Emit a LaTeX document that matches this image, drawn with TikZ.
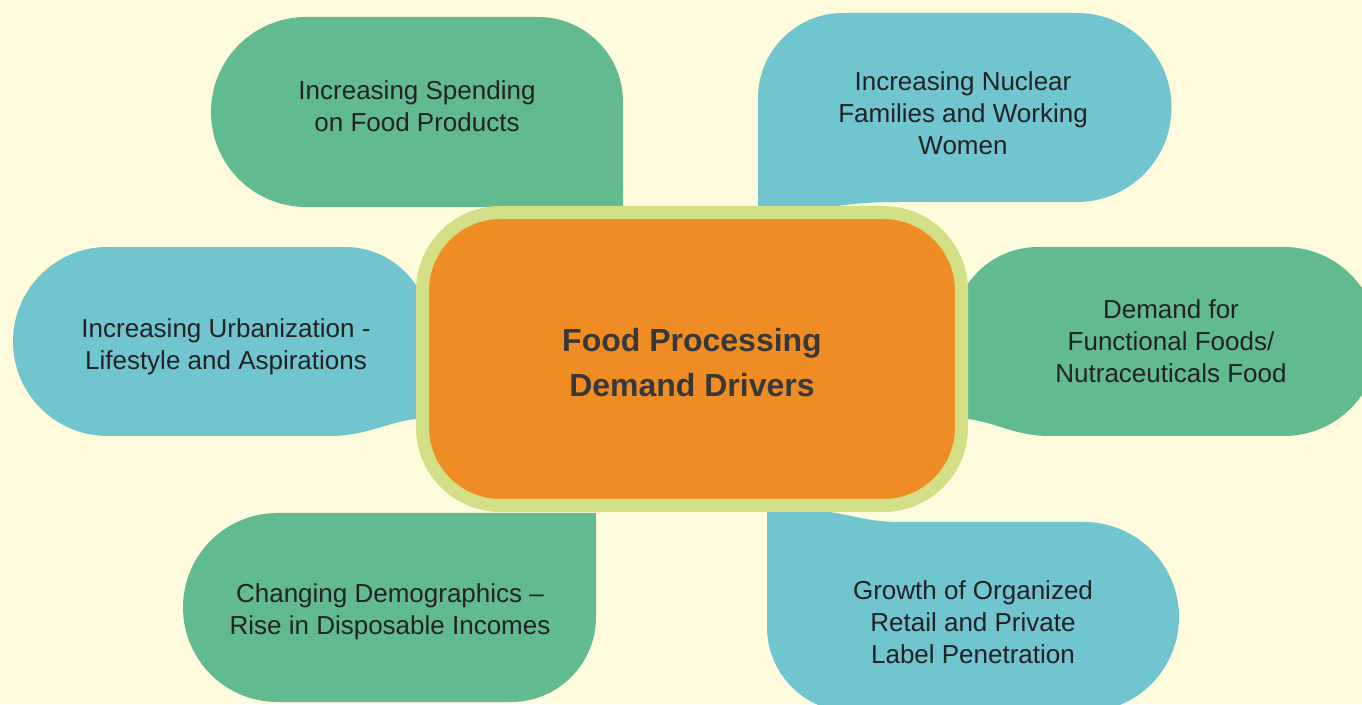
\documentclass[tikz,border=0pt]{standalone}
\usepackage{fontspec}
\setmainfont{Liberation Sans}
\definecolor{cream}{HTML}{FFFBDC}
\definecolor{leafgreen}{HTML}{62BB8F}
\definecolor{leafblue}{HTML}{70C5CF}
\definecolor{huborange}{HTML}{F08C24}
\definecolor{hubring}{HTML}{D2DF86}
\definecolor{inktext}{HTML}{222222}
\begin{document}
\begin{tikzpicture}[x=1pt,y=1pt,
	leaftext/.style={align=center, text=inktext, font=\fontsize{26}{32}\selectfont},
	hubbox/.style={draw=hubring, line width=13pt, fill=huborange, rounded corners=78pt,
		minimum width=539pt, minimum height=293pt},
	hubtext/.style={align=center, text=inktext!90, font=\bfseries\fontsize{32}{45}\selectfont}]
	\fill[cream] (0,0) rectangle (1362,704);
	\clip (0,0) rectangle (1362,704);
	
	\fill[leafgreen] (623,497) -- (306,497) arc[start angle=270,end angle=90,radius=95] -- (538,687) arc[start angle=90,end angle=0,radius=85] -- cycle;
	\fill[leafblue] (758,490) -- (758,606) arc[start angle=180,end angle=90,radius=85] -- (1077,691) arc[start angle=90,end angle=-90,radius=94.5] -- (900,502) .. controls (865,502) and (850,500) .. (825,496) -- cycle;
	\fill[leafblue] (107.5,268) arc[start angle=270,end angle=90,radius=94.5] -- (345,457) arc[start angle=90,end angle=0,radius=85] -- (430,287) -- (415,285) .. controls (385,281) and (365,268) .. (330,268) -- cycle;
	\fill[leafgreen] (1284,268) arc[start angle=-90,end angle=90,radius=94.5] -- (1038,457) arc[start angle=90,end angle=180,radius=85] -- (953,287) -- (968,285) .. controls (998,281) and (1015,268) .. (1050,268) -- cycle;
	\fill[leafgreen] (596,191) -- (277.5,191) arc[start angle=90,end angle=270,radius=94.5] -- (511,2) arc[start angle=270,end angle=360,radius=85] -- cycle;
	\fill[leafblue] (767,196) -- (767,77) arc[start angle=180,end angle=270,radius=85] -- (1084,-8) arc[start angle=-90,end angle=90,radius=95] -- (900,182) .. controls (870,182) and (855,188) .. (830,192) -- cycle;
	
	\node[leaftext] (spend) at (417,598) {Increasing Spending\\on Food Products};
	\node[leaftext] (nuclear) at (963,591) {Increasing Nuclear\\Families and Working\\Women};
	\node[leaftext] (urban) at (226,357) {Increasing Urbanization -\\Lifestyle and Aspirations};
	\node[leaftext] (functional) at (1171,363) {Demand for\\Functional Foods/\\Nutraceuticals Food};
	\node[leaftext] (demog) at (390,92) {Changing Demographics --\\Rise in Disposable Incomes};
	\node[leaftext] (retail) at (973,82) {Growth of Organized\\Retail and Private\\Label Penetration};
	
	\node[hubbox] (hub) at (692,345) {};
	\node[hubtext, yshift=-4pt] (hubtitle) at (hub) {Food Processing\\Demand Drivers};
\end{tikzpicture}
\end{document}
